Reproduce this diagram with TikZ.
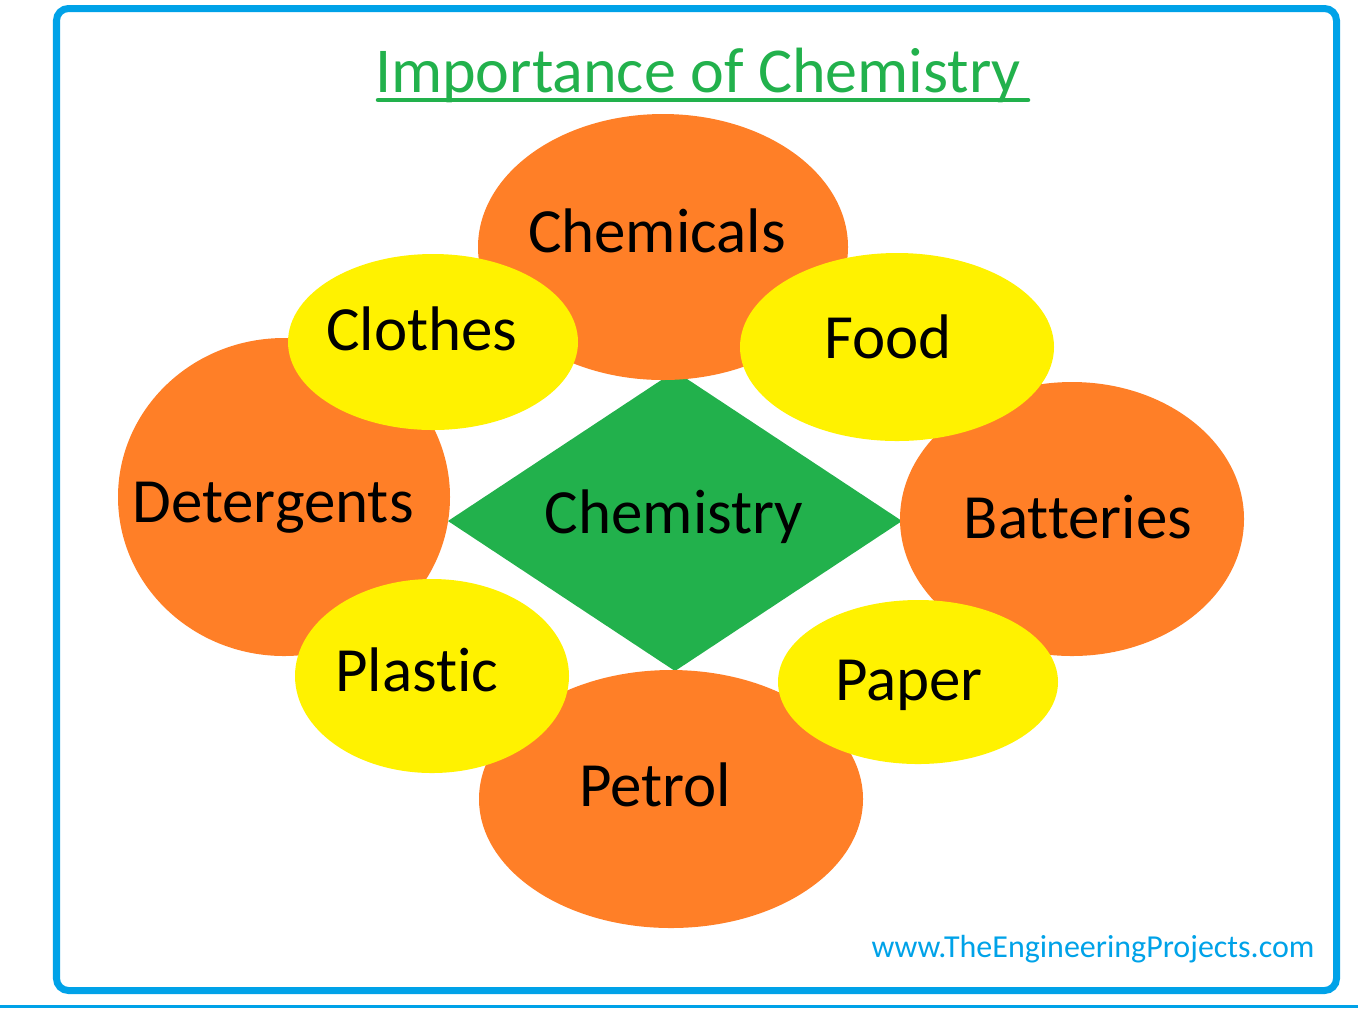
\documentclass[tikz,border=0pt]{standalone}
\usepackage{fontspec}
\setmainfont{Carlito}[Ligatures=NoCommon]
\usetikzlibrary{positioning, calc}
\definecolor{chemorange}{HTML}{FF7F27}
\definecolor{chemyellow}{HTML}{FFF200}
\definecolor{chemgreen}{HTML}{22B14C}
\definecolor{chemblue}{HTML}{00A2E8}

\begin{document}
\begin{tikzpicture}[
  x=0.01cm, y=-0.01cm,
  label/.style={inner sep=0, anchor=base, font=\fontsize{17.9}{20}\selectfont},
  bigblob/.style={fill=chemorange},
  smallblob/.style={fill=chemyellow}
]
\useasboundingbox (0,0) rectangle (1358,1008);

% Frame
\draw[chemblue, line width=0.07cm, rounded corners=0.12cm] (56.5,8.5) rectangle (1336.5,990.5);
\fill[chemblue] (0,1004.5) rectangle (1358,1008);

% Title
\node[label, text=chemgreen, font=\fontsize{18.2}{20}\selectfont] (title) at (698,92) {Importance of Chemistry};
\draw[chemgreen, line width=0.045cm, line cap=round] (378,100) -- (1028,100);

% Centre
\fill[chemgreen] (448,521) -- (675,371) -- (902,521) -- (675,671) -- cycle;

% Outer circle
\fill[bigblob] (663,247) ellipse [x radius=185, y radius=133];
\fill[bigblob] (284,497) ellipse [x radius=166, y radius=159];
\fill[bigblob] (1072,519) ellipse [x radius=172, y radius=137];
\fill[bigblob] (671,799) ellipse [x radius=192, y radius=129];

% Inner circle
\fill[smallblob] (433,342) ellipse [x radius=145, y radius=88];
\fill[smallblob] (897,347) ellipse [x radius=157, y radius=94];
\fill[smallblob] (432,676) ellipse [x radius=137, y radius=97];
\fill[smallblob] (918,682) ellipse [x radius=140, y radius=82];

% Labels
\node[label] (chemistry) at (674,533) {Chemistry};
\node[label] (chemicals) at (657,252) {Chemicals};
\node[label] (detergents) at (273,522) {Detergents};
\node[label] (batteries) at (1078,538) {Batteries};
\node[label] (petrol) at (655,806) {Petrol};
\node[label] (clothes) at (422,350) {Clothes};
\node[label] (food) at (888,358) {Food};
\node[label] (plastic) at (417,691) {Plastic};
\node[label] (paper) at (909,700) {Paper};

% Web address
\node[inner sep=0, anchor=base, text=chemblue, font=\fontsize{9.1}{11}\selectfont] (web) at (1093,957) {www.TheEngineeringProjects.com};

\end{tikzpicture}
\end{document}
